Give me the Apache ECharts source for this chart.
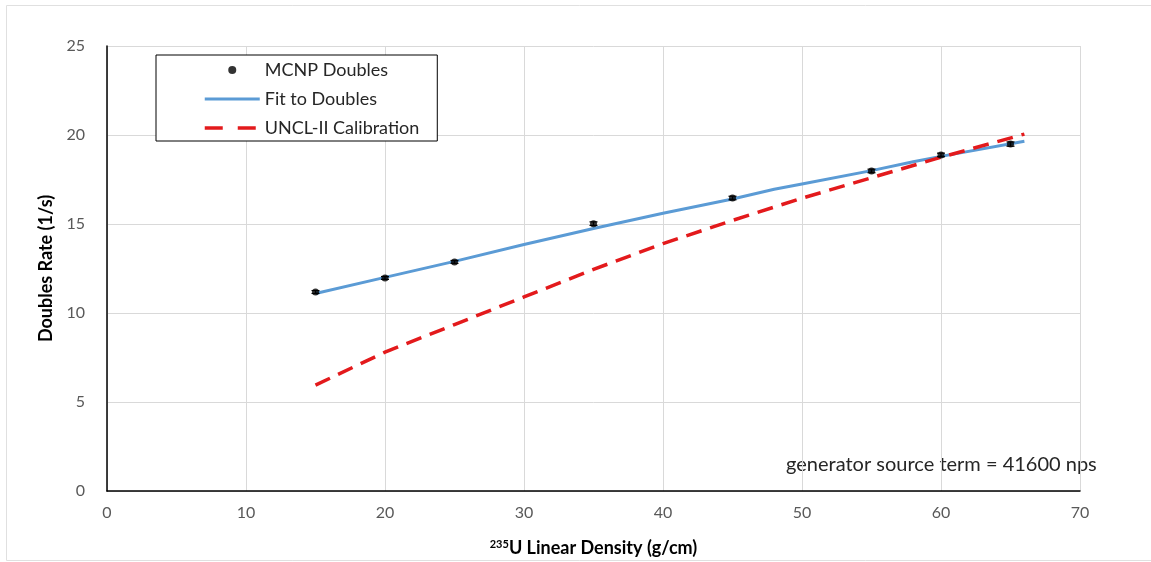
<!DOCTYPE html>
<html><head><meta charset="utf-8">
<script src="https://cdn.jsdelivr.net/npm/echarts@6/dist/echarts.min.js"></script>
<style>html,body{margin:0;padding:0;background:#fff}#c{width:1151px;height:562px}</style>
</head><body><div id="c"></div>
<script>
const xTicks = [0,10,20,30,40,50,60,70];
const yTicks = [0,5,10,15,20,25];
const mcnpX = [15,20,25,35,45,55,60,65];
const mcnpY = [11.18,11.97,12.87,15.02,16.46,17.98,18.88,19.49];
const mcnpErr = [0.08,0.08,0.08,0.1,0.1,0.1,0.1,0.12];
const fitX = [15,20,25,30,35,40,45,48,50,55,58,60,66];
const fitY = [11.1,12.0,12.9,13.85,14.75,15.6,16.4,16.95,17.25,18.0,18.5,18.8,19.65];
const calX = [15,20,25,30,35,40,45,50,55,60,66];
const calY = [5.95,7.8,9.35,10.9,12.45,13.9,15.2,16.45,17.6,18.75,20.05];

const font = 'Lato, "Open Sans", sans-serif';
const hidden = {color:'rgba(0,0,0,0)',borderWidth:0,opacity:0};
const chart = echarts.init(document.getElementById('c'), null, {renderer:'canvas'});
chart.setOption({
  animation:false,
  backgroundColor:'#fff',
  grid:{left:107,right:71,top:46,bottom:71},
  legend:{
    orient:'vertical',left:156,top:55,
    padding:[6,18,4,47],
    borderColor:'#000',borderWidth:1,backgroundColor:'#fff',
    itemWidth:55,itemHeight:8,itemGap:11,
    textStyle:{fontFamily:font,fontSize:18,color:'#262626'},
    data:[
      {name:'MCNP Doubles',icon:'circle'},
      {name:'Fit to Doubles',itemStyle:hidden,lineStyle:{width:3,color:'#5b9bd5'}},
      {name:'UNCL-II Calibration',itemStyle:hidden,lineStyle:{width:3.5,color:'#e31a1c',type:[18,15]}}
    ]
  },
  xAxis:{
    type:'value',min:0,max:70,interval:10,
    axisLine:{show:true,lineStyle:{color:'#000',width:1.5}},
    axisTick:{show:false},
    axisLabel:{color:'#595959',fontFamily:font,fontSize:16,margin:14},
    splitLine:{show:true,lineStyle:{color:'#d9d9d9'}},
    name:'{sup|235}{b|U Linear Density (g/cm)}',nameLocation:'middle',nameGap:48,
    nameTextStyle:{rich:{
      sup:{fontFamily:font,fontSize:11,fontWeight:'bold',color:'#000',verticalAlign:'top',padding:[0,0,7,0]},
      b:{fontFamily:font,fontSize:18,fontWeight:'bold',color:'#000'}
    }}
  },
  yAxis:{
    type:'value',min:0,max:25,interval:5,
    axisLine:{show:true,lineStyle:{color:'#000',width:1.5}},
    axisTick:{show:false},
    axisLabel:{color:'#595959',fontFamily:font,fontSize:16,margin:22},
    splitLine:{show:true,lineStyle:{color:'#d9d9d9'}},
    name:'Doubles Rate (1/s)',nameLocation:'middle',nameGap:51,
    nameTextStyle:{fontFamily:font,fontSize:18,fontWeight:'bold',color:'#000'}
  },
  series:[
    {
      name:'Fit to Doubles',type:'line',symbol:'none',z:2,
      lineStyle:{color:'#5b9bd5',width:3},itemStyle:{color:'#5b9bd5'},
      data:fitX.map((x,i)=>[x,fitY[i]])
    },
    {
      name:'UNCL-II Calibration',type:'line',symbol:'none',z:3,
      lineStyle:{color:'#e31a1c',width:3.5,type:[16,9]},itemStyle:{color:'#e31a1c'},
      data:calX.map((x,i)=>[x,calY[i]])
    },
    {
      name:'MCNP Doubles',type:'scatter',symbol:'circle',symbolSize:7,z:5,
      itemStyle:{color:'#000'},
      data:mcnpX.map((x,i)=>[x,mcnpY[i]])
    },
    {
      name:'err',type:'custom',z:6,silent:true,
      renderItem:function(params,api){
        const x=api.value(0),y=api.value(1),e=api.value(2);
        const hi=api.coord([x,y+e]),lo=api.coord([x,y-e]);
        const w=4;
        return {type:'group',children:[
          {type:'line',shape:{x1:hi[0],y1:hi[1],x2:lo[0],y2:lo[1]},style:{stroke:'#000',lineWidth:1.2}},
          {type:'line',shape:{x1:hi[0]-w,y1:hi[1],x2:hi[0]+w,y2:hi[1]},style:{stroke:'#000',lineWidth:1.2}},
          {type:'line',shape:{x1:lo[0]-w,y1:lo[1],x2:lo[0]+w,y2:lo[1]},style:{stroke:'#000',lineWidth:1.2}}
        ]};
      },
      data:mcnpX.map((x,i)=>[x,mcnpY[i],mcnpErr[i]])
    }
  ],
  graphic:[
    {type:'rect',shape:{x:6.5,y:5.5,width:1160,height:555},style:{fill:'none',stroke:'#e0e0e0',lineWidth:1},silent:true},
    {type:'text',left:786,top:455,style:{text:'generator source term = 41600 nps',fontFamily:font,fontSize:20,fill:'#262626'}}
  ]
});
</script></body></html>
